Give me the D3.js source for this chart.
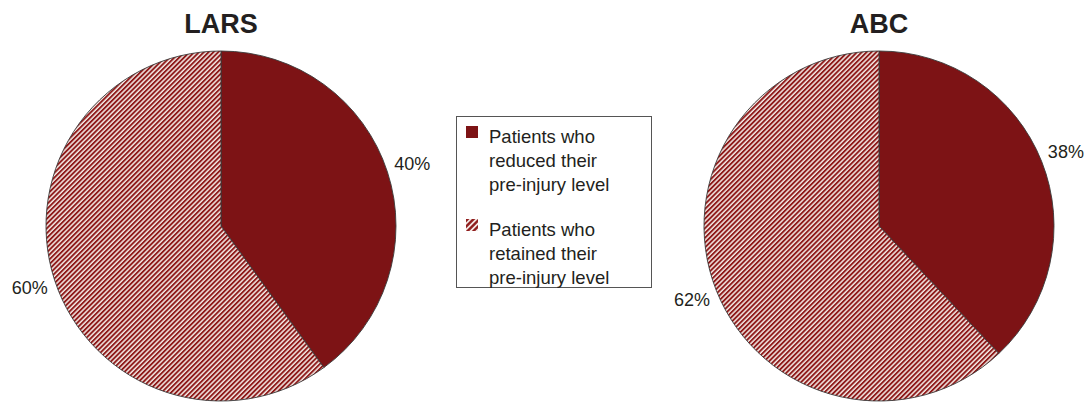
<!DOCTYPE html>
<html>
<head>
<meta charset="utf-8">
<script src="https://cdn.jsdelivr.net/npm/d3@7"></script>
<style>
  html, body { margin: 0; padding: 0; background: #fff; }
  svg { display: block; font-family: Arial, "Liberation Sans", sans-serif; }
</style>
</head>
<body>
<svg id="chart" width="1089" height="405"></svg>
<script>
// Share of patients per outcome, for each score
const charts = ["LARS", "ABC"];
const categories = ["Patients who reduced their pre-injury level", "Patients who retained their pre-injury level"];
const larsValues = [40, 60];
const abcValues = [38, 62];
const legendLines = [
  ["Patients who", "reduced their", "pre-injury level"],
  ["Patients who", "retained their", "pre-injury level"]
];

const W = 1089, H = 405;
const svg = d3.select("#chart");
const red = "#7d1315";

// diagonal red/white stripes for the "retained" slices
const defs = svg.append("defs");
const pat = defs.append("pattern")
  .attr("id", "hatch")
  .attr("patternUnits", "userSpaceOnUse")
  .attr("width", 3.4).attr("height", 3.4)
  .attr("patternTransform", "rotate(45)");
pat.append("rect").attr("width", 3.4).attr("height", 3.4).attr("fill", "#f3e8e4");
pat.append("rect").attr("width", 1.9).attr("height", 3.4).attr("fill", "#8e1a1a");

const swatchPat = defs.append("pattern")
  .attr("id", "hatchSwatch")
  .attr("patternUnits", "userSpaceOnUse")
  .attr("width", 4.2).attr("height", 4.2)
  .attr("patternTransform", "rotate(45)");
swatchPat.append("rect").attr("width", 4.2).attr("height", 4.2).attr("fill", "#f3e8e4");
swatchPat.append("rect").attr("width", 2.4).attr("height", 4.2).attr("fill", "#8e1a1a");

const fills = [red, "url(#hatch)"];
const swatchFills = [red, "url(#hatchSwatch)"];

const r = 175;
const cx = d3.scalePoint().domain(charts).range([221, 879]);
const cy = 226;

const pie = d3.pie().sort(null).value(d => d);
const arc = d3.arc().innerRadius(0).outerRadius(r);
const labelArc = d3.arc().innerRadius(201).outerRadius(201);

const series = { LARS: larsValues, ABC: abcValues };

charts.forEach(name => {
  const g = svg.append("g").attr("transform", `translate(${cx(name)},${cy})`);
  const arcs = pie(series[name]);

  g.selectAll("path.slice")
    .data(arcs)
    .join("path")
    .attr("class", "slice")
    .attr("d", arc)
    .attr("fill", (d, i) => fills[i])
    .attr("stroke", "#3a3a3a")
    .attr("stroke-width", 0.9);

  g.selectAll("text.pct")
    .data(arcs)
    .join("text")
    .attr("class", "pct")
    .attr("transform", d => `translate(${labelArc.centroid(d)})`)
    .attr("text-anchor", "middle")
    .attr("dominant-baseline", "central")
    .attr("font-size", 18)
    .attr("fill", "#231f20")
    .text(d => d.data + "%");

  svg.append("text")
    .attr("x", cx(name))
    .attr("y", 33)
    .attr("text-anchor", "middle")
    .attr("font-size", 27)
    .attr("font-weight", "bold")
    .attr("fill", "#231f20")
    .text(name);
});

// legend
const lg = svg.append("g");
lg.append("rect")
  .attr("x", 456.5).attr("y", 116.5)
  .attr("width", 195).attr("height", 171)
  .attr("fill", "#fff")
  .attr("stroke", "#555")
  .attr("stroke-width", 1);

const items = lg.selectAll("g.item")
  .data(categories)
  .join("g")
  .attr("class", "item")
  .attr("transform", (d, i) => `translate(466, ${126 + i * 93})`);

items.append("rect")
  .attr("width", 12).attr("height", 12)
  .attr("fill", (d, i) => swatchFills[i]);

items.each(function(d, i) {
  d3.select(this).selectAll("text")
    .data(legendLines[i])
    .join("text")
    .attr("x", 23)
    .attr("y", (t, j) => 17 + j * 24)
    .attr("font-size", 18.5)
    .attr("fill", "#231f20")
    .text(t => t);
});
</script>
</body>
</html>
